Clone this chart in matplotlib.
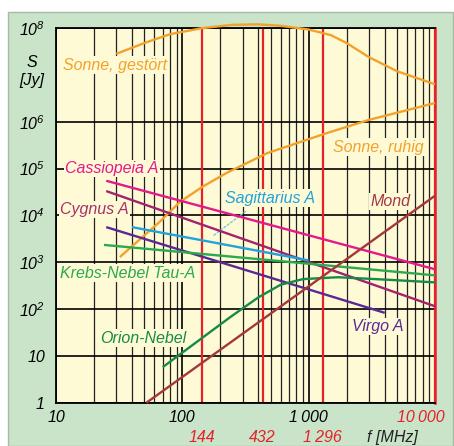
import numpy as np
import matplotlib
matplotlib.use("Agg")
import matplotlib.pyplot as plt
import matplotlib.transforms as mtransforms
from matplotlib.patches import Rectangle

plt.rcParams['font.family'] = ['Liberation Sans', 'DejaVu Sans']
plt.rcParams['font.style'] = 'italic'
plt.rcParams['mathtext.fontset'] = 'custom'
plt.rcParams['mathtext.rm'] = 'Liberation Sans:italic'
plt.rcParams['mathtext.it'] = 'Liberation Sans:italic'

# --- data (frequency in MHz, flux density as log10(S / Jy)) ---
sun_storm_f = [30, 50, 80, 144, 250, 400, 600, 1000, 1500, 2000, 3000, 5000, 10000]
sun_storm_s = [7.45, 7.68, 7.87, 8.0, 8.07, 8.08, 8.05, 7.97, 7.85, 7.68, 7.38, 7.08, 6.8]

sun_quiet_f = [32, 66, 96, 144, 225, 470, 1400, 3000, 10000]
sun_quiet_s = [3.11, 3.86, 4.29, 4.61, 4.91, 5.33, 5.76, 6.04, 6.4]

cas_f = [25, 10000]
cas_s = [4.74, 2.85]

cyg_f = [25, 10000]
cyg_s = [4.52, 2.06]

vir_f = [25, 4000]
vir_s = [3.75, 1.92]

sgr_f = [40, 1000]
sgr_s = [3.75, 3.04]

crab_f = [24, 10000]
crab_s = [3.37, 2.72]

orion_f = [70, 240, 400, 600, 900, 1700, 4000, 10000]
orion_s = [0.76, 1.83, 2.25, 2.52, 2.64, 2.68, 2.63, 2.57]

moon_f = [52, 10000]
moon_s = [0.0, 4.42]

band_freqs = [144, 432, 1296, 10000]
band_labels = ['144', '432', '1\u2009296']

x_ticks = [10, 100, 1000, 10000]
x_tick_labels = ['10', '100', '1\u2009000', '10\u2009000']
y_ticks = [1, 10, 1e2, 1e3, 1e4, 1e5, 1e6, 1e8]
y_tick_labels = ['1', '10', '$10^2$', '$10^3$', '$10^4$', '$10^5$', '$10^6$', '$10^8$']

# --- colours ---
panel_bg = '#c9e4c9'
plot_bg = '#fffad6'
red = '#e8202a'
orange = '#f2a22a'

fig = plt.figure(figsize=(4.54, 4.46), dpi=100)
fig.patches.append(Rectangle((0.0176, 0.0), 0.98, 0.973, transform=fig.transFigure,
                             facecolor=panel_bg, edgecolor='#a9b8a9', lw=1.0, zorder=-10))

ax = fig.add_axes([0.1233, 0.097, 0.8348, 0.840])
ax.set_facecolor(plot_bg)
ax.set_xscale('log')
ax.set_yscale('log')
ax.set_xlim(10, 10000)
ax.set_ylim(1, 1e8)

# grid: vertical at 1..9 per decade, horizontal per decade only
ax.xaxis.set_minor_locator(matplotlib.ticker.LogLocator(base=10, subs=np.arange(2, 10)))
ax.xaxis.set_minor_formatter(matplotlib.ticker.NullFormatter())
ax.yaxis.set_minor_locator(matplotlib.ticker.NullLocator())
ax.grid(True, which='major', axis='both', color='black', lw=1.2, zorder=1)
ax.grid(True, which='minor', axis='x', color='#222222', lw=0.9, zorder=1)
ax.set_axisbelow(True)

ax.set_xticks(x_ticks)
ax.set_xticklabels(x_tick_labels, fontsize=11.5)
ax.set_yticks(y_ticks)
ax.set_yticklabels(y_tick_labels, fontsize=11.5)
ax.tick_params(which='both', length=0)
ax.tick_params(axis='x', pad=5)
ax.tick_params(axis='y', pad=8)
last = ax.get_xticklabels()[-1]
last.set_color(red)
last.set_transform(last.get_transform() +
                   mtransforms.ScaledTranslation(-10 / 72, 0, fig.dpi_scale_trans))

for sp in ax.spines.values():
    sp.set_color('black')
    sp.set_linewidth(1.3)
ax.spines['right'].set_color(red)
ax.spines['right'].set_linewidth(1.8)

# amateur band markers
for f in band_freqs:
    ax.axvline(f, color=red, lw=1.6, zorder=2)
for f, lab in zip(band_freqs, band_labels):
    ax.text(f, -0.093, lab, color=red, fontsize=11.5, ha='center', va='center',
            transform=ax.get_xaxis_transform(), clip_on=False)
ax.text(2900, -0.093, 'f [MHz]', color='#222222', fontsize=11.5, ha='left', va='center',
        transform=ax.get_xaxis_transform(), clip_on=False)

ax.text(-0.063, 0.907, 'S', fontsize=11.5, ha='center', va='center', transform=ax.transAxes)
ax.text(-0.063, 0.861, '[Jy]', fontsize=11.5, ha='center', va='center', transform=ax.transAxes)

series = [
    (sun_storm_f, sun_storm_s, orange),
    (sun_quiet_f, sun_quiet_s, orange),
    (cas_f, cas_s, '#e6198a'),
    (cyg_f, cyg_s, '#a1246c'),
    (vir_f, vir_s, '#5a2a92'),
    (sgr_f, sgr_s, '#22a2da'),
    (crab_f, crab_s, '#2aaa4c'),
    (orion_f, orion_s, '#178a45'),
    (moon_f, moon_s, '#a33838'),
]
for f, s, c in series:
    ax.plot(f, 10 ** np.array(s), color=c, lw=1.7, zorder=4, solid_capstyle='butt',
            clip_on=False)

box = dict(facecolor=plot_bg, edgecolor='none', pad=0.8)
labels = [
    ('Sonne, gestört', 11.4, 10 ** 7.21, orange),
    ('Sonne, ruhig', 1560, 10 ** 5.46, orange),
    ('Cassiopeia A', 11.8, 10 ** 5.01, '#e6198a'),
    ('Cygnus A', 10.8, 10 ** 4.12, '#a8306a'),
    ('Sagittarius A', 218, 10 ** 4.37, '#22a2da'),
    ('Mond', 3060, 10 ** 4.29, '#a33848'),
    ('Krebs-Nebel Tau-A', 10.8, 10 ** 2.77, '#2aaa4c'),
    ('Orion-Nebel', 22.3, 10 ** 1.38, '#178a45'),
    ('Virgo A', 2210, 10 ** 1.62, '#5a2a92'),
]
for txt, x, y, c in labels:
    ax.text(x, y, txt, color=c, fontsize=11.5, ha='left', va='center', bbox=box, zorder=5)

# dotted leader from the Sagittarius label to its line
lead_f = 166
lead_s = np.interp(np.log10(lead_f), np.log10(sgr_f), sgr_s)
ax.annotate('', xy=(lead_f, 10 ** (lead_s + 0.08)), xytext=(330, 10 ** 4.12),
            arrowprops=dict(arrowstyle='-', color='#7cc4e0', lw=1.0, ls=(0, (1.5, 1.5))),
            zorder=3)

fig.savefig('out.png', dpi=100, facecolor='white')
